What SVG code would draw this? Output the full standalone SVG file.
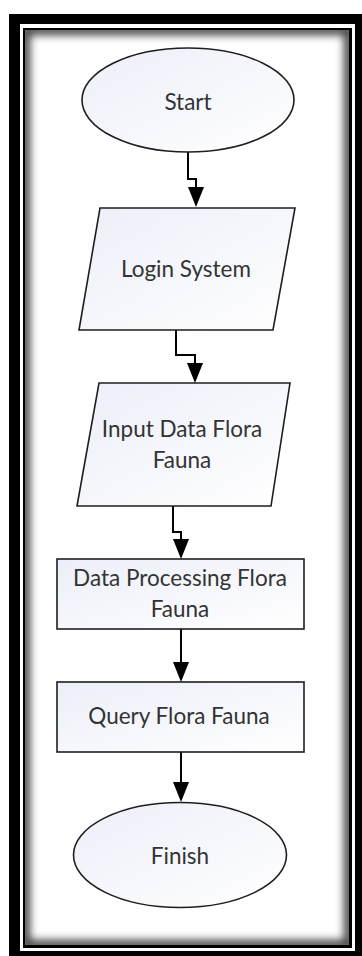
<svg xmlns="http://www.w3.org/2000/svg" width="362" height="956" viewBox="0 0 362 956">
<style>
.shape{stroke:#1e1e1e;stroke-width:1.6;fill:url(#fillg)}
.lbl{font-family:Lato,"Open Sans","Liberation Sans",sans-serif;font-size:22.5px;fill:#333;text-anchor:middle;dominant-baseline:central}
.conn{fill:none;stroke:#000;stroke-width:2}
</style>
<defs>
<linearGradient id="fillg" x1="0" y1="0" x2="1" y2="1">
<stop offset="0" stop-color="#eceff9"/>
<stop offset="1" stop-color="#ffffff"/>
</linearGradient>
<clipPath id="inner"><rect x="25" y="30" width="324" height="915"/></clipPath>
<filter id="blur" x="-10%" y="-10%" width="120%" height="120%"><feGaussianBlur stdDeviation="4"/></filter>
<marker id="arr" viewBox="0 0 20 16" refX="14" refY="8" markerWidth="20" markerHeight="16" markerUnits="userSpaceOnUse" orient="auto">
<path d="M0,0 L20,8 L0,16 z" fill="#000"/>
</marker>
</defs>
<rect width="362" height="956" fill="#fff"/>
<g id="frame">
<rect x="9" y="14" width="353" height="942" fill="#000"/>
<rect x="20" y="24" width="335" height="927" fill="#fff"/>
<rect x="23" y="28" width="329" height="920" fill="#000"/>
<rect x="25" y="30" width="324" height="915" fill="#fff"/>
<g clip-path="url(#inner)">
<rect x="25" y="30" width="324" height="915" fill="none" stroke="#000" stroke-width="10" opacity="0.75" filter="url(#blur)"/>
</g>
</g>
<g id="connectors">
<path class="conn" d="M188,152 V179 H196 V201" marker-end="url(#arr)"/>
<path class="conn" d="M176,330 V355 H195 V377" marker-end="url(#arr)"/>
<path class="conn" d="M173,506 V532 H181 V553" marker-end="url(#arr)"/>
<path class="conn" d="M181,629 V676" marker-end="url(#arr)"/>
<path class="conn" d="M181,752 V796" marker-end="url(#arr)"/>
</g>
<g id="start">
<ellipse class="shape" cx="188" cy="100" rx="106" ry="52"/>
<text class="lbl" x="188" y="101">Start</text>
</g>
<g id="login">
<polygon class="shape" points="100,208 295,208 273,330 79,330"/>
<text class="lbl" x="186" y="268">Login System</text>
</g>
<g id="input">
<polygon class="shape" points="99,383 290,383 271,506 77,506"/>
<text class="lbl" x="182" y="428">Input Data Flora</text>
<text class="lbl" x="182" y="459">Fauna</text>
</g>
<g id="process">
<rect class="shape" x="57" y="559" width="247" height="70"/>
<text class="lbl" x="180" y="577">Data Processing Flora</text>
<text class="lbl" x="180" y="608">Fauna</text>
</g>
<g id="query">
<rect class="shape" x="57" y="682" width="247" height="70"/>
<text class="lbl" x="179" y="715">Query Flora Fauna</text>
</g>
<g id="finish">
<ellipse class="shape" cx="180" cy="855" rx="106.5" ry="52.5"/>
<text class="lbl" x="180" y="855">Finish</text>
</g>
</svg>
